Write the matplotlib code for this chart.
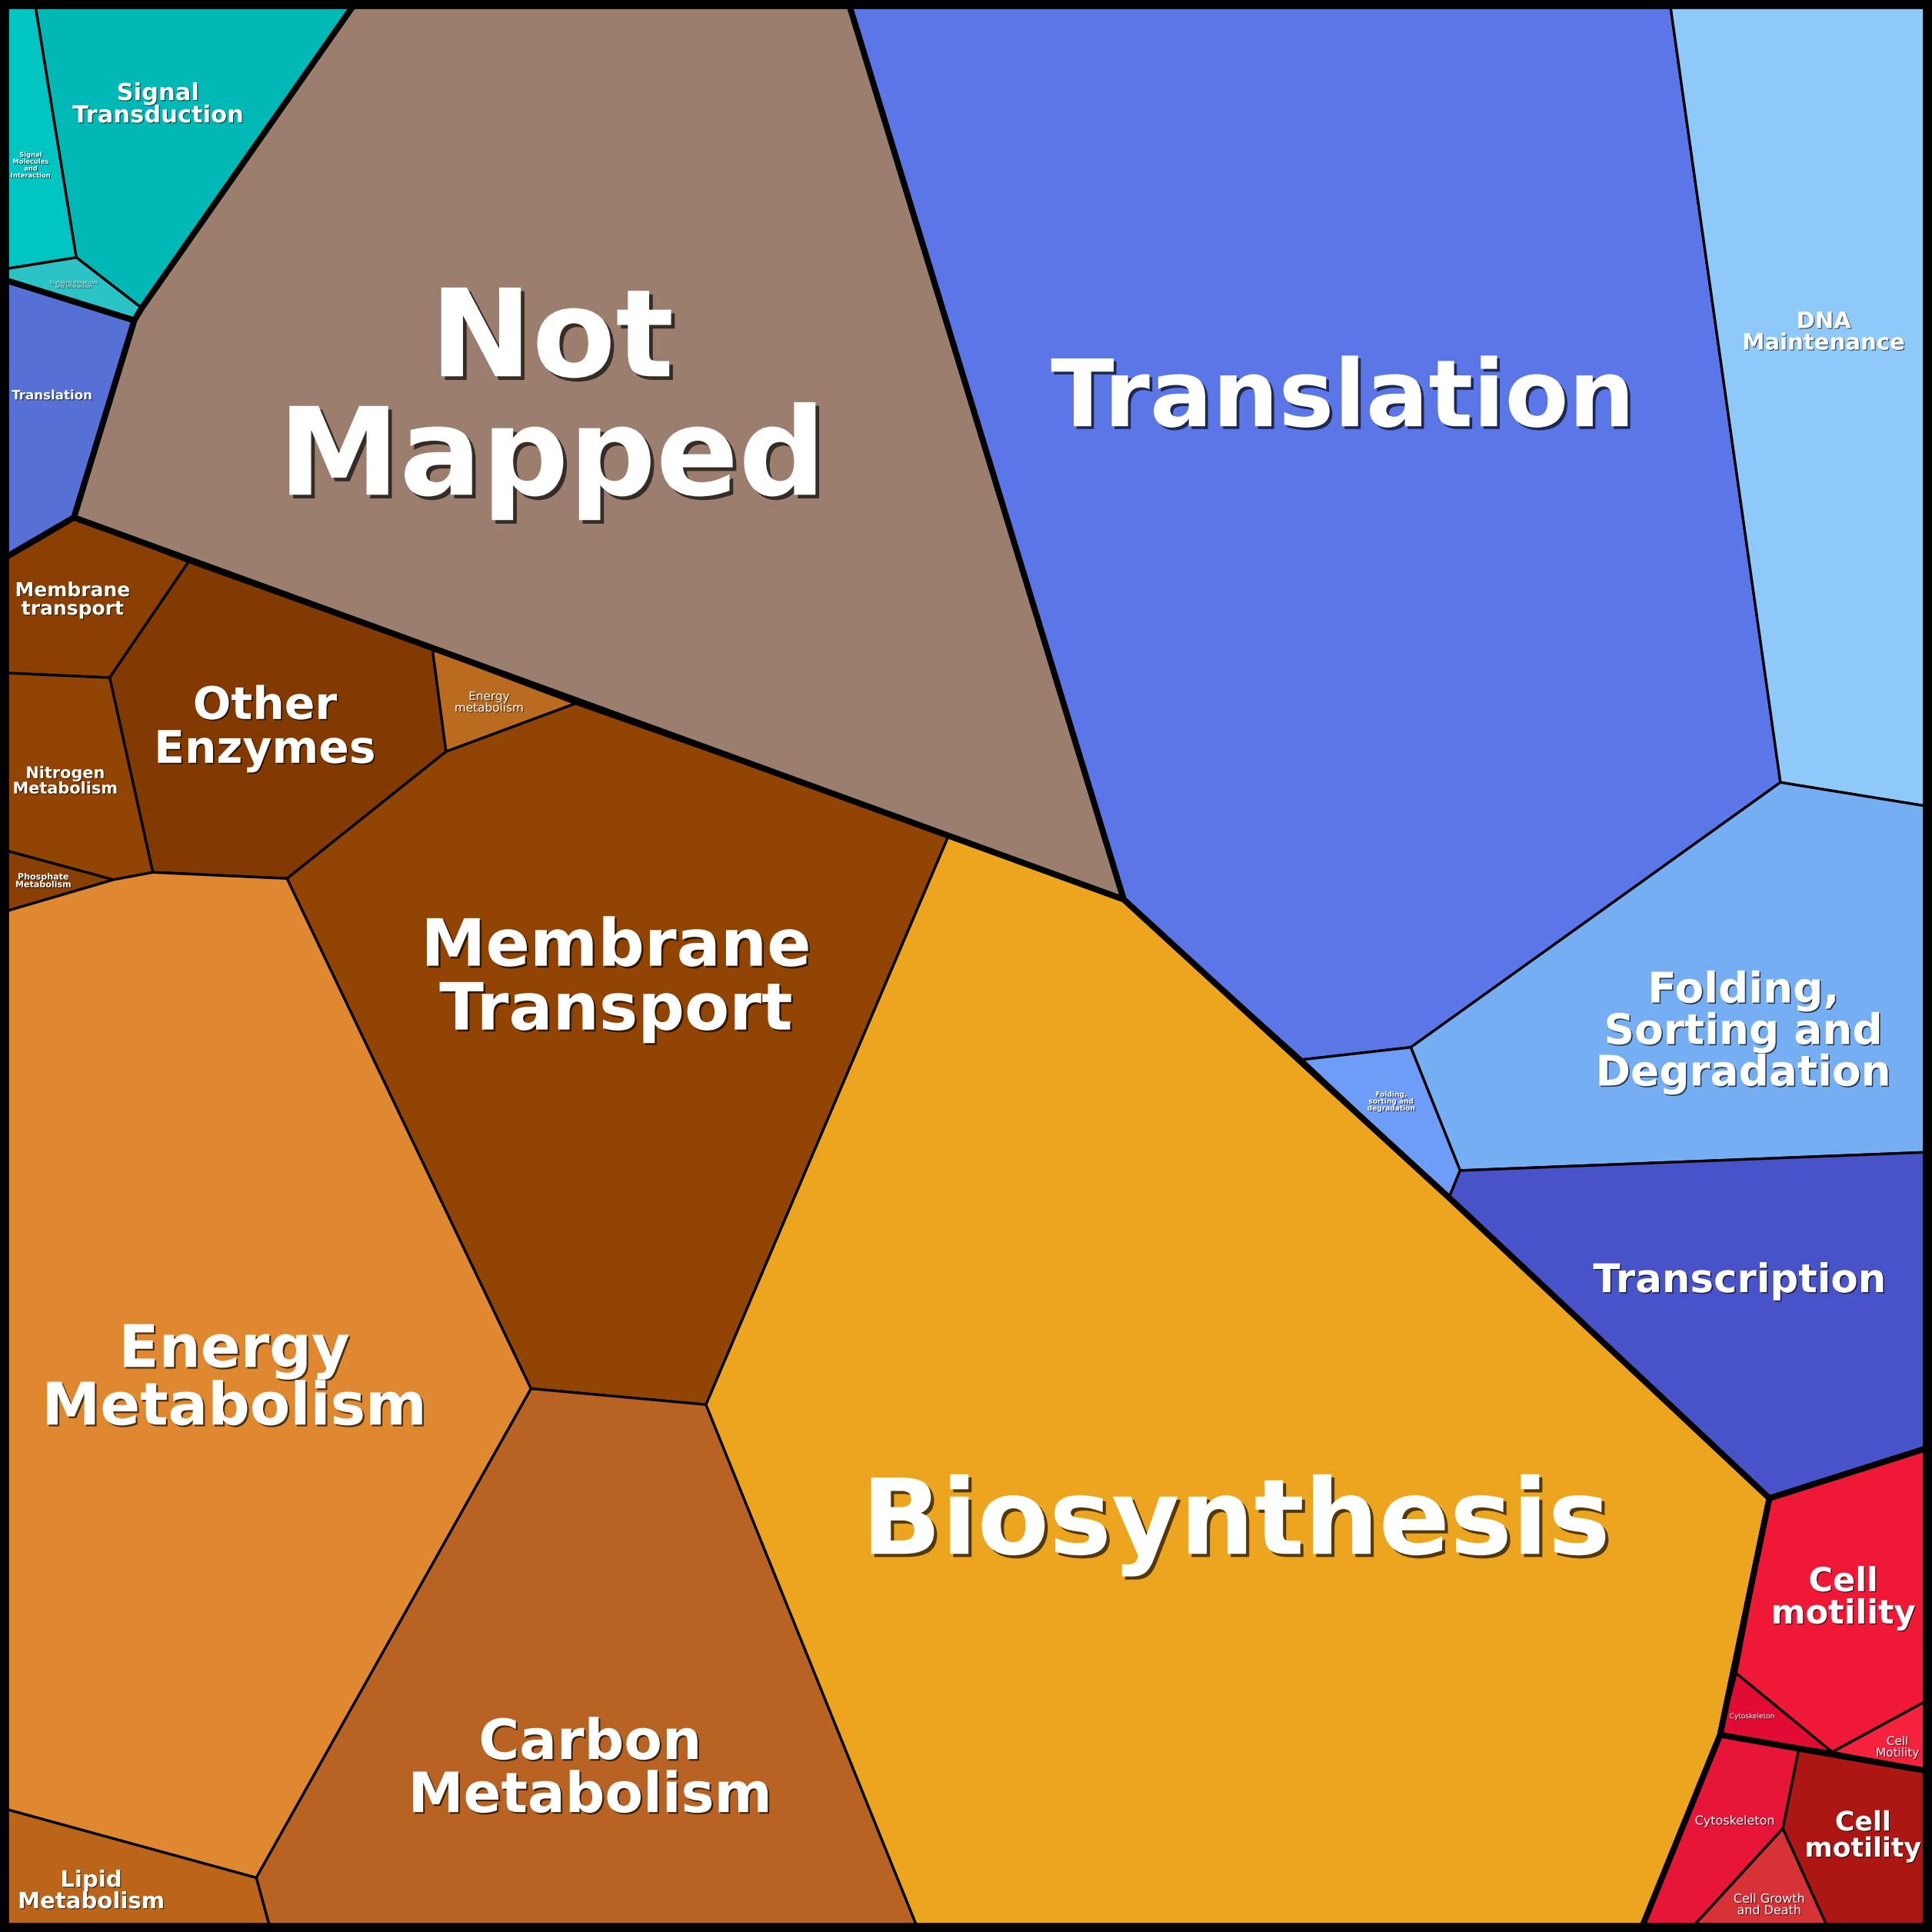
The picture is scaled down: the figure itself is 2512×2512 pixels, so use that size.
import matplotlib
matplotlib.use("Agg")
import matplotlib.pyplot as plt
from matplotlib.patches import Polygon, Rectangle
import matplotlib.patheffects as pe

# voronoi treemap cells, corners (square 0..1568, y pointing down)
cellNames = ['Signal Molecules and Interaction', 'Signal Transduction', 'Signaling molecules and interaction',
             'Translation (small)', 'Not Mapped',
             'Translation', 'DNA Maintenance', 'Folding, Sorting and Degradation', 'Folding, sorting and degradation',
             'Transcription',
             'Cell motility', 'Cytoskeleton (small)', 'Cell Motility (small)',
             'Cytoskeleton', 'Cell Growth and Death', 'Cell motility (dark)',
             'Membrane transport', 'Other Enzymes', 'Energy metabolism', 'Nitrogen Metabolism', 'Phosphate Metabolism',
             'Energy Metabolism', 'Membrane Transport', 'Carbon Metabolism', 'Lipid Metabolism', 'Biosynthesis']

cellVertices = [
    [(0, 0), (28, 0), (62, 209), (0, 219)],
    [(28, 0), (290, 0), (115, 250), (62, 209)],
    [(0, 219), (62, 209), (115, 250), (109, 260), (0, 226)],
    [(0, 226), (109, 260), (60, 420), (0, 455)],
    [(290, 0), (688, 0), (912, 730), (60, 420), (109, 260), (115, 250)],
    [(688, 0), (1355, 0), (1445, 635), (1145, 850), (1057, 860), (912, 730)],
    [(1355, 0), (1568, 0), (1568, 655), (1445, 635)],
    [(1445, 635), (1568, 655), (1568, 935), (1185, 950), (1145, 850)],
    [(1057, 860), (1145, 850), (1185, 950), (1176, 972)],
    [(1185, 950), (1568, 935), (1568, 1174), (1436, 1216), (1176, 972)],
    [(1436, 1216), (1568, 1174), (1568, 1378), (1487, 1422), (1409, 1358)],
    [(1409, 1358), (1487, 1422), (1396, 1408)],
    [(1487, 1422), (1568, 1378), (1568, 1438)],
    [(1396, 1408), (1460, 1419), (1447, 1484), (1370, 1568), (1331, 1568)],
    [(1447, 1484), (1485, 1568), (1370, 1568)],
    [(1460, 1419), (1568, 1438), (1568, 1568), (1485, 1568), (1447, 1484)],
    [(0, 455), (60, 420), (153, 456), (89, 550), (0, 546)],
    [(153, 456), (351, 527), (362, 610), (233, 713), (124, 708), (89, 550)],
    [(351, 527), (467, 571), (362, 610)],
    [(0, 546), (89, 550), (124, 708), (92, 714), (0, 689)],
    [(0, 689), (92, 714), (0, 741)],
    [(0, 741), (92, 714), (124, 708), (233, 713), (431, 1127), (208, 1524), (0, 1467)],
    [(362, 610), (467, 571), (770, 678), (573, 1140), (431, 1127), (233, 713)],
    [(431, 1127), (573, 1140), (746, 1568), (220, 1568), (208, 1524)],
    [(0, 1467), (208, 1524), (220, 1568), (0, 1568)],
    [(770, 678), (912, 730), (1176, 972), (1436, 1216), (1396, 1408), (1331, 1568), (746, 1568), (573, 1140)],
]

cellColors = ['#00C5C3', '#00B8B6', '#2BC3C6',
              '#5670D6', '#9C7E6E',
              '#5B76E6', '#8FC9F9', '#75AEF2', '#6D9DF7', '#4853C9',
              '#EF1837', '#E00C33', '#F4223D', '#E71638', '#D63238', '#AD1713',
              '#8B3F03', '#833A00', '#BB6B20', '#924405', '#8A4005',
              '#E08830', '#924404', '#B86323', '#BA6519', '#EDA51F']

# top level groups get the thick outline
groupVertices = [
    [(0, 0), (290, 0), (115, 250), (109, 260), (0, 226)],
    [(0, 226), (109, 260), (60, 420), (0, 455)],
    [(290, 0), (688, 0), (912, 730), (60, 420), (109, 260), (115, 250)],
    [(688, 0), (1568, 0), (1568, 1174), (1436, 1216), (1176, 972), (912, 730)],
    [(1436, 1216), (1568, 1174), (1568, 1438), (1396, 1408)],
    [(1396, 1408), (1568, 1438), (1568, 1568), (1331, 1568)],
    [(0, 455), (60, 420), (912, 730), (1176, 972), (1436, 1216), (1396, 1408), (1331, 1568), (0, 1568)],
]

# labels: text, x, y, size (pt), weight
labels = [
    ('Signal\nMolecules\nand\nInteraction', 25, 134, 6, 'bold'),
    ('Signal\nTransduction', 128, 85, 22, 'bold'),
    ('Signaling molecules\nand interaction', 60, 231, 4.5, 'normal'),
    ('Translation', 42, 321, 12, 'bold'),
    ('Not\nMapped', 448, 326, 114, 'bold'),
    ('Translation', 1090, 325, 87, 'bold'),
    ('DNA\nMaintenance', 1480, 270, 21, 'bold'),
    ('Folding,\nSorting and\nDegradation', 1415, 838, 39.5, 'bold'),
    ('Folding,\nsorting and\ndegradation', 1129, 894, 6.5, 'bold'),
    ('Transcription', 1412, 1040, 37, 'bold'),
    ('Cell\nmotility', 1496, 1297, 31, 'bold'),
    ('Cytoskeleton', 1422, 1393, 6.5, 'normal'),
    ('Cell\nMotility', 1540, 1418, 11, 'normal'),
    ('Cytoskeleton', 1408, 1478, 11.5, 'normal'),
    ('Cell Growth\nand Death', 1436, 1546, 11.5, 'normal'),
    ('Cell\nmotility', 1512, 1490, 25, 'bold'),
    ('Membrane\ntransport', 59, 487, 18, 'bold'),
    ('Other\nEnzymes', 215, 591, 42, 'bold'),
    ('Energy\nmetabolism', 397, 570, 11, 'normal'),
    ('Nitrogen\nMetabolism', 53, 634, 15, 'bold'),
    ('Phosphate\nMetabolism', 35, 715, 8, 'bold'),
    ('Energy\nMetabolism', 190, 1120, 55, 'bold'),
    ('Membrane\nTransport', 500, 795, 61, 'bold'),
    ('Carbon\nMetabolism', 479, 1437, 52, 'bold'),
    ('Lipid\nMetabolism', 74, 1535, 21, 'bold'),
    ('Biosynthesis', 1003, 1238, 98, 'bold'),
]

fig = plt.figure(figsize=(25.12, 25.12), dpi=100)
ax = fig.add_axes([0, 0, 1, 1])
ax.set_xlim(0, 1568)
ax.set_ylim(1568, 0)
ax.axis('off')

for verts, col in zip(cellVertices, cellColors):
    ax.add_patch(Polygon(verts, closed=True, facecolor=col, edgecolor='black',
                         linewidth=2.4, joinstyle='round', zorder=1))

for verts in groupVertices:
    ax.add_patch(Polygon(verts, closed=True, fill=False, edgecolor='black',
                         linewidth=5.5, joinstyle='round', zorder=2))

for txt, x, y, size, weight in labels:
    off = max(0.8, size * 0.03)
    col = '#DDEEEE' if size < 5 else 'white'
    ax.text(x, y, txt, ha='center', va='center', fontsize=size, fontweight=weight,
            color=col, linespacing=1.0, family='DejaVu Sans', zorder=3,
            path_effects=[pe.withSimplePatchShadow(offset=(off, -off), shadow_rgbFace='black', alpha=0.65)])

ax.add_patch(Rectangle((0, 0), 1568, 1568, fill=False, edgecolor='black', linewidth=17, zorder=4))

fig.savefig('out.png', dpi=100, facecolor='black')
